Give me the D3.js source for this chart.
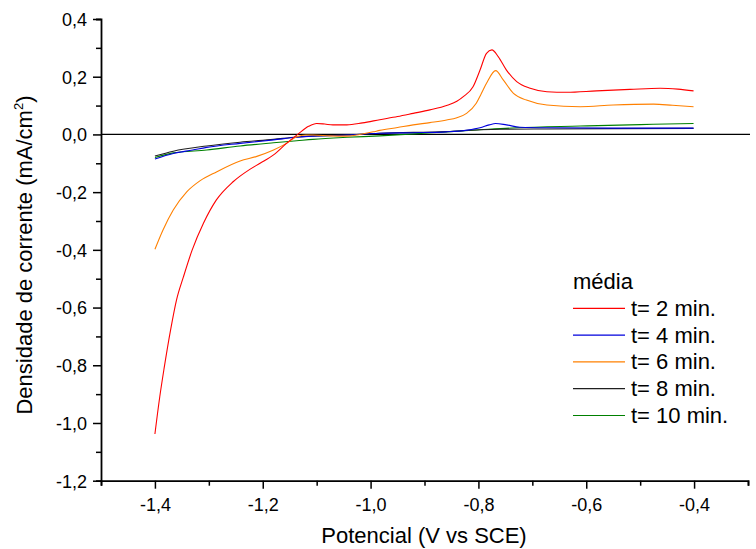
<!DOCTYPE html>
<html><head><meta charset="utf-8">
<script src="https://cdn.jsdelivr.net/npm/d3@7"></script>
<style>body{margin:0;background:#fff}svg{display:block}text{font-family:Arial,"Liberation Sans",sans-serif;fill:#000}</style>
</head><body>
<svg id="c" width="756" height="549"></svg>
<script>
// ---- data (Potential V vs SCE, current density mA/cm2) ----
const seriesNames = ["t= 2 min.","t= 4 min.","t= 6 min.","t= 8 min.","t= 10 min."];
const seriesColors = ["#ff0000","#0000dd","#ff8000","#202020","#008000"];
const t2 = [[-1.400,-1.038],[-1.391,-0.909],[-1.383,-0.811],[-1.371,-0.678],[-1.360,-0.574],[-1.347,-0.493],[-1.331,-0.401],[-1.310,-0.308],[-1.286,-0.227],[-1.255,-0.164],[-1.224,-0.121],[-1.205,-0.100],[-1.180,-0.071],[-1.156,-0.031],[-1.134,0.002],[-1.115,0.028],[-1.100,0.038],[-1.085,0.036],[-1.070,0.033],[-1.044,0.033],[-1.015,0.040],[-0.983,0.051],[-0.950,0.062],[-0.921,0.073],[-0.890,0.085],[-0.859,0.100],[-0.840,0.115],[-0.828,0.131],[-0.810,0.165],[-0.797,0.223],[-0.785,0.281],[-0.775,0.293],[-0.763,0.269],[-0.748,0.223],[-0.729,0.183],[-0.704,0.160],[-0.673,0.148],[-0.636,0.146],[-0.581,0.151],[-0.519,0.156],[-0.463,0.160],[-0.430,0.157],[-0.401,0.151]];
const t4 = [[-1.400,-0.085],[-1.366,-0.066],[-1.330,-0.054],[-1.304,-0.045],[-1.242,-0.031],[-1.180,-0.019],[-1.137,-0.010],[-1.107,-0.006],[-1.044,-0.002],[-0.983,0.004],[-0.920,0.006],[-0.859,0.009],[-0.820,0.015],[-0.797,0.023],[-0.780,0.033],[-0.768,0.038],[-0.748,0.033],[-0.723,0.025],[-0.673,0.023],[-0.550,0.022],[-0.401,0.022]];
const t6 = [[-1.400,-0.398],[-1.385,-0.331],[-1.366,-0.262],[-1.341,-0.199],[-1.316,-0.160],[-1.285,-0.129],[-1.242,-0.092],[-1.211,-0.076],[-1.180,-0.054],[-1.156,-0.031],[-1.137,-0.008],[-1.120,-0.002],[-1.107,-0.002],[-1.075,-0.005],[-1.044,-0.006],[-1.020,0.000],[-0.995,0.009],[-0.983,0.014],[-0.950,0.024],[-0.921,0.033],[-0.890,0.041],[-0.859,0.050],[-0.840,0.058],[-0.822,0.073],[-0.804,0.108],[-0.795,0.140],[-0.785,0.177],[-0.768,0.221],[-0.754,0.189],[-0.735,0.142],[-0.711,0.119],[-0.673,0.102],[-0.611,0.096],[-0.550,0.102],[-0.475,0.105],[-0.440,0.101],[-0.401,0.096]];
const t8 = [[-1.400,-0.075],[-1.366,-0.058],[-1.304,-0.040],[-1.242,-0.027],[-1.180,-0.017],[-1.137,-0.009],[-1.044,-0.002],[-0.983,0.004],[-0.859,0.010],[-0.797,0.016],[-0.760,0.018],[-0.673,0.019],[-0.550,0.020],[-0.401,0.021]];
const t10 = [[-1.400,-0.080],[-1.366,-0.064],[-1.304,-0.054],[-1.242,-0.040],[-1.180,-0.029],[-1.137,-0.022],[-1.107,-0.017],[-1.044,-0.010],[-0.983,-0.005],[-0.920,0.002],[-0.859,0.009],[-0.797,0.016],[-0.730,0.023],[-0.611,0.029],[-0.500,0.034],[-0.401,0.038]];
const xMajorTicks = [-1.4,-1.2,-1.0,-0.8,-0.6,-0.4];
const xMinorTicks = [-1.5,-1.3,-1.1,-0.9,-0.7,-0.5,-0.3];
const yMajorTicks = [0.4,0.2,0.0,-0.2,-0.4,-0.6,-0.8,-1.0,-1.2];
const yMinorTicks = [0.3,0.1,-0.1,-0.3,-0.5,-0.7,-0.9,-1.1];
const xTitle = "Potencial (V vs SCE)";
const legendTitle = "média";

const series = [t2,t4,t6,t8,t10];
const drawOrder = [4,3,1,2,0];

const svg = d3.select("#c");
const x = d3.scaleLinear().domain([-1.5,-0.3]).range([101,748]);
const y = d3.scaleLinear().domain([-1.2,0.4]).range([480.7,19]);
const fmt = d => d3.format(".1f")(d).replace(".", ",").replace("−","-");

// zero line
svg.append("line").attr("x1",x(-1.5)).attr("x2",750).attr("y1",y(0)).attr("y2",y(0))
  .attr("stroke","#000").attr("stroke-width",1.2);

// series
const line = d3.line().x(d=>x(d[0])).y(d=>y(d[1])).curve(d3.curveMonotoneX);
drawOrder.forEach(i=>{
  svg.append("path").datum(series[i]).attr("d",line).attr("fill","none")
    .attr("stroke",seriesColors[i]).attr("stroke-width",1.1);
});

// axes
const axX = svg.append("g").attr("transform",`translate(0,${y(-1.2)})`);
axX.call(d3.axisBottom(x).tickValues(xMajorTicks).tickSize(8).tickFormat(fmt));
axX.append("g").call(d3.axisBottom(x).tickValues(xMinorTicks).tickSize(5).tickFormat(""));
axX.selectAll("path.domain").attr("stroke-width",1.8);
axX.select("g path.domain").remove();
axX.selectAll("line").attr("stroke-width",1.5);
axX.selectAll("text").attr("font-size",18).attr("dy",null).attr("y",30).attr("font-family","Arial, Liberation Sans, sans-serif");

const axY = svg.append("g").attr("transform",`translate(${x(-1.5)},0)`);
axY.call(d3.axisLeft(y).tickValues(yMajorTicks).tickSize(8).tickFormat(fmt));
axY.append("g").call(d3.axisLeft(y).tickValues(yMinorTicks).tickSize(5).tickFormat(""));
axY.selectAll("path.domain").attr("stroke-width",1.8);
axY.select("g path.domain").remove();
axY.selectAll("line").attr("stroke-width",1.5);
axY.selectAll("text").attr("font-size",18).attr("x",-14).attr("dy","0.35em").attr("font-family","Arial, Liberation Sans, sans-serif");

// titles
svg.append("text").attr("x",424).attr("y",543).attr("text-anchor","middle").attr("font-size",22).text(xTitle);
const yt = svg.append("text").attr("transform","translate(32,255) rotate(-90)").attr("text-anchor","middle").attr("font-size",22);
yt.append("tspan").text("Densidade de corrente (mA/cm");
yt.append("tspan").attr("font-size",13).attr("dy",-9).text("2");
yt.append("tspan").attr("dy",9).text(")");

// legend
const lg = svg.append("g");
lg.append("text").attr("x",573).attr("y",289).attr("font-size",22).text(legendTitle);
seriesNames.forEach((n,i)=>{
  const yy = 308.3 + i*26.8;
  lg.append("line").attr("x1",573).attr("x2",625).attr("y1",yy).attr("y2",yy).attr("stroke",seriesColors[i]).attr("stroke-width",1.2);
  lg.append("text").attr("x",631).attr("y",yy+7.5).attr("font-size",22).text(n);
});
</script>
</body></html>
